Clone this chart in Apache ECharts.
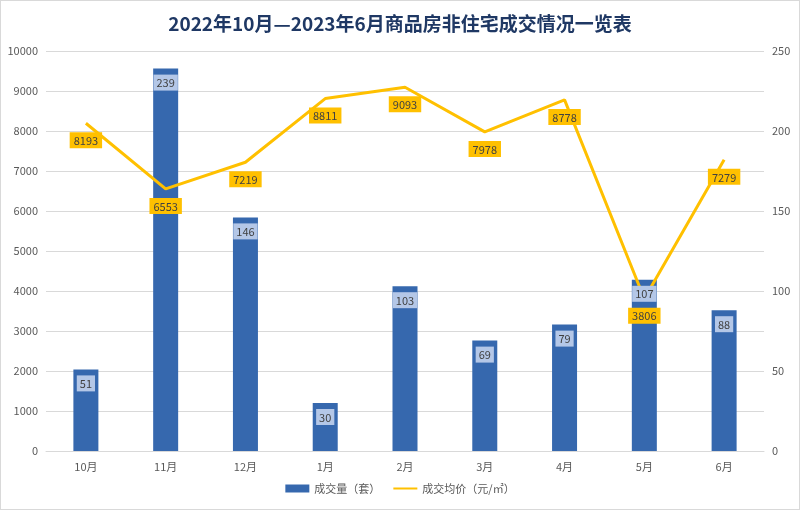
<!DOCTYPE html>
<html><head><meta charset="utf-8">
<script src="https://cdn.jsdelivr.net/npm/echarts@6/dist/echarts.min.js"></script>
<style>html,body{margin:0;padding:0;background:#fff}#c{width:800px;height:510px;box-sizing:border-box;border:1px solid #d9d9d9}</style>
</head><body><div id="c"></div>
<script>
const categories = ['10月','11月','12月','1月','2月','3月','4月','5月','6月'];
const volume = [51, 239, 146, 30, 103, 69, 79, 107, 88];
const price = [8193, 6553, 7219, 8811, 9093, 7978, 8778, 3806, 7279];
const leftTicks = [0, 10000, 1000];
const rightTicks = [0, 250, 50];

const chart = echarts.init(document.getElementById('c'));
const font = '"Noto Sans CJK SC", "Noto Sans", sans-serif';
const barLabel = {show: true, position: 'insideTop', distance: 6, color: '#404040', fontSize: 11,
  backgroundColor: '#B4C7E7', padding: [3, 3, 2, 3]};
chart.setOption({
  animation: false,
  textStyle: {fontFamily: font},
  title: {text: '2022年10月—2023年6月商品房非住宅成交情况一览表', left: 'center', top: 8,
    textStyle: {fontSize: 19, fontWeight: 'bold', color: '#1F3864', fontFamily: font}},
  legend: {bottom: 10, left: 'center', itemWidth: 24, itemHeight: 8, itemGap: 12,
    textStyle: {color: '#595959', fontSize: 11, fontFamily: font},
    data: [{name: '成交量（套）', icon: 'rect'},
           {name: '成交均价（元/㎡）', itemStyle: {opacity: 0}}]},
  grid: {left: 45, right: 35, top: 50, bottom: 58},
  xAxis: {type: 'category', data: categories,
    axisLine: {lineStyle: {color: '#d9d9d9'}}, axisTick: {show: false},
    axisLabel: {color: '#595959', fontSize: 11, margin: 10}},
  yAxis: [
    {type: 'value', min: leftTicks[0], max: leftTicks[1], interval: leftTicks[2],
      axisLabel: {color: '#595959', fontSize: 11, formatter: v => String(v)}, axisLine: {show: false},
      splitLine: {lineStyle: {color: '#d9d9d9'}}},
    {type: 'value', min: rightTicks[0], max: rightTicks[1], interval: rightTicks[2],
      axisLabel: {color: '#595959', fontSize: 11}, axisLine: {show: false},
      splitLine: {show: false}}
  ],
  series: [
    {name: '成交量（套）', type: 'bar', yAxisIndex: 1, data: volume, barWidth: 25, z: 1,
      itemStyle: {color: '#3668AE'}},
    {name: '成交均价（元/㎡）', type: 'line', yAxisIndex: 0, data: price, z: 2,
      symbol: 'circle', symbolSize: 0, showSymbol: true,
      lineStyle: {color: '#FFC000', width: 3}, itemStyle: {color: '#FFC000'},
      label: {show: true, position: 'bottom', distance: 9, color: '#404040', fontSize: 11,
        backgroundColor: '#FFC000', padding: [3, 4, 2, 4]}},
    {name: 'volLabels', type: 'bar', yAxisIndex: 1, data: volume, barWidth: 25, barGap: '-100%', z: 3,
      silent: true, itemStyle: {color: 'rgba(0,0,0,0)'}, label: barLabel}
  ]
});
</script></body></html>
